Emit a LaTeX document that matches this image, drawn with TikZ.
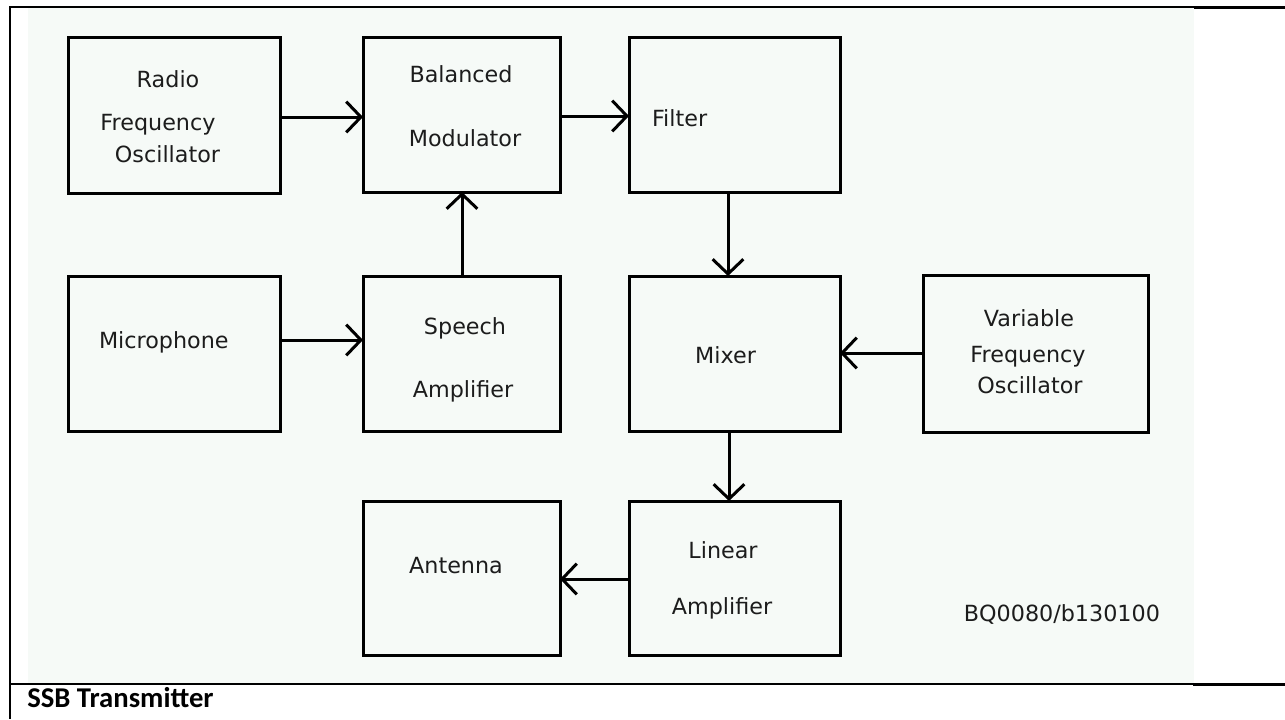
\documentclass[tikz,border=0pt]{standalone}
\usepackage{fontspec}
\newfontfamily\dvs{DejaVu Sans}
\newfontfamily\cbl{Carlito}
\usetikzlibrary{arrows.meta}
\definecolor{bgc}{RGB}{246,250,247}
\definecolor{ink}{RGB}{28,28,28}
\begin{document}
\begin{tikzpicture}[x=0.75pt,y=-0.75pt,
  box/.style={draw=black, line width=2.25pt, inner sep=0pt, outer sep=0pt},
  wideA/.style={minimum width=159pt},
  wideB/.style={minimum width=147.75pt},
  wideC/.style={minimum width=158.25pt},
  tallA/.style={minimum height=116.25pt},
  lbl/.style={font=\dvs\fontsize{16.7pt}{20pt}\selectfont, inner sep=0pt, outer sep=0pt, anchor=base, text=ink},
  arr/.style={line width=2.25pt, -{Straight Barb[length=11pt,width=23pt,line width=2.25pt]}},
  frame/.style={draw=black, line width=1.5pt},
  framebold/.style={draw=black, line width=2.25pt}
]
\useasboundingbox (0,0) rectangle (1285,719);
\fill[bgc] (28,8) rectangle (1194,684);
% frame lines
\draw[frame] (10,7) -- (1194,7);
\draw[framebold] (1194,7.5) -- (1285,7.5);
\draw[frame] (10,6.3) -- (10,719);
\draw[frame] (10,684) -- (1193,684);
\draw[framebold] (1193,684.5) -- (1285,684.5);

% boxes
\node[box, wideA, minimum height=117pt] (rfo) at (174,115) {};
\node[box, wideB, tallA] (bm) at (461.5,114.5) {};
\node[box, wideC, tallA] (filter) at (734.5,114.5) {};
\node[box, wideA, tallA] (mic) at (174,353.5) {};
\node[box, wideB, tallA] (sa) at (461.5,353.5) {};
\node[box, wideC, tallA] (mixer) at (734.5,353.5) {};
\node[box, minimum width=168.75pt, minimum height=117.75pt] (vfo) at (1035.5,353.5) {};
\node[box, wideB, minimum height=115.5pt] (ant) at (461.5,578) {};
\node[box, wideC, minimum height=115.5pt] (lin) at (734.5,578) {};

% connector helper coordinates
\coordinate (yA) at (0,117);
\coordinate (yB) at (0,116);
\coordinate (xC) at (728,0);
\coordinate (xD) at (462,0);
\coordinate (yE) at (0,340);
\coordinate (yF) at (0,353);
\coordinate (xG) at (729,0);
\coordinate (yH) at (0,579);

\draw[arr] (rfo.east |- yA) -- (bm.west |- yA);
\draw[arr] (bm.east |- yB) -- (filter.west |- yB);
\draw[arr] (filter.south -| xC) -- (mixer.north -| xC);
\draw[arr] (sa.north -| xD) -- (bm.south -| xD);
\draw[arr] (mic.east |- yE) -- (sa.west |- yE);
\draw[arr] (vfo.west |- yF) -- (mixer.east |- yF);
\draw[arr] (mixer.south -| xG) -- (lin.north -| xG);
\draw[arr] (lin.west |- yH) -- (ant.east |- yH);

% labels
\node[lbl] (t1) at (168,87) {Radio};
\node[lbl] (t2) at (158,130) {Frequency};
\node[lbl] (t3) at (167.5,162) {Oscillator};
\node[lbl] (t4) at (461,82) {Balanced};
\node[lbl] (t5) at (465,146) {Modulator};
\node[lbl, anchor=base west] (t6) at (652,126) {Filter};
\node[lbl, anchor=base west] (t7) at (99,348) {Microphone};
\node[lbl] (t8) at (465,334) {Speech};
\node[lbl] (t9) at (463,397) {Amplifier};
\node[lbl] (t10) at (725.5,363) {Mixer};
\node[lbl] (t11) at (1029,326) {Variable};
\node[lbl] (t12) at (1028,362) {Frequency};
\node[lbl] (t13) at (1030,393) {Oscillator};
\node[lbl] (t14) at (456,573) {Antenna};
\node[lbl] (t15) at (723,558) {Linear};
\node[lbl] (t16) at (722,614) {Amplifier};
\node[lbl, anchor=base east] (t17) at (1160,621) {BQ0080/b130100};
\node[font=\cbl\bfseries\fontsize{21.5pt}{24pt}\selectfont, anchor=base west, inner sep=0pt, text=black] (cap) at (27,707) {SSB Transmitter};
\end{tikzpicture}
\end{document}
